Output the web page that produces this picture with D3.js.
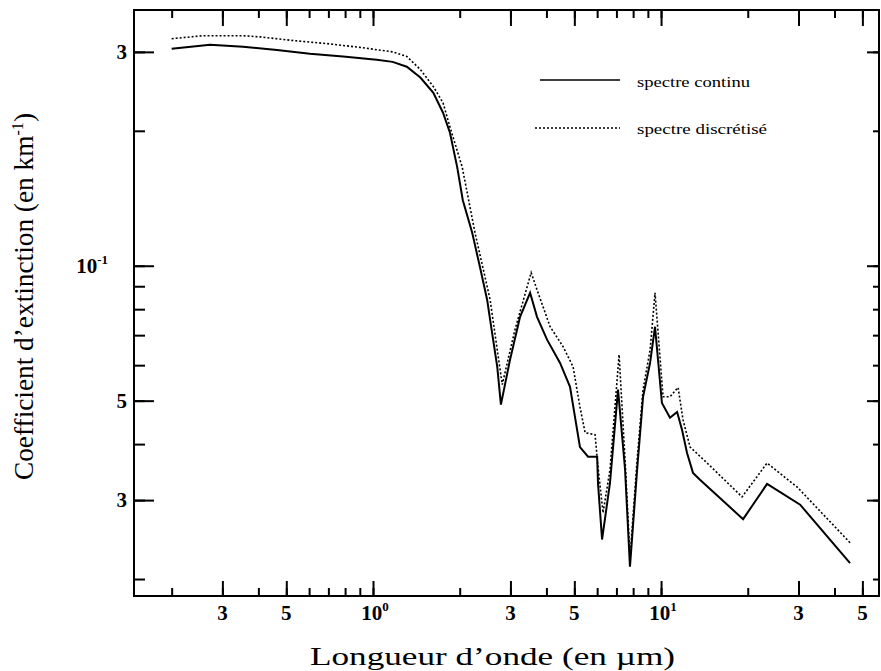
<!DOCTYPE html>
<html>
<head>
<meta charset="utf-8">
<script src="https://cdn.jsdelivr.net/npm/d3@7"></script>
<style>
  html, body { margin: 0; padding: 0; background: #fff; }
  svg { display: block; }
  text { font-family: "Liberation Serif", "Times New Roman", serif; fill: #000; }
</style>
</head>
<body>
<svg id="chart" width="881" height="671"></svg>
<script>
// ---- Data ----
const wavelengthContinu = [0.200, 0.272, 0.354, 0.464, 0.604, 0.787, 1.03, 1.17, 1.31, 1.46, 1.62, 1.75, 1.85, 1.96, 2.05, 2.21, 2.35, 2.49, 2.59, 2.70, 2.78, 2.99, 3.24, 3.51, 3.71, 4.02, 4.46, 4.83, 5.23, 5.58, 6.00, 6.04, 6.24, 6.65, 7.09, 7.50, 7.80, 8.26, 8.66, 9.16, 9.53, 10.07, 10.74, 11.37, 11.83, 12.31, 12.91, 13.65, 19.27, 23.34, 30.4, 45.3];
const valuesContinu = [0.305, 0.311, 0.308, 0.303, 0.297, 0.293, 0.288, 0.285, 0.278, 0.263, 0.243, 0.2195, 0.198, 0.166, 0.140, 0.1185, 0.0995, 0.0840, 0.0709, 0.0595, 0.0490, 0.0617, 0.0769, 0.0870, 0.0769, 0.0684, 0.0607, 0.0537, 0.0394, 0.0375, 0.0375, 0.0328, 0.0245, 0.0328, 0.0529, 0.0351, 0.0213, 0.0351, 0.0510, 0.0607, 0.0731, 0.0494, 0.0458, 0.0472, 0.0430, 0.0382, 0.0345, 0.0333, 0.0272, 0.0326, 0.0293, 0.0217];

const wavelengthDiscret = [0.200, 0.257, 0.354, 0.405, 0.528, 0.692, 0.901, 1.17, 1.31, 1.46, 1.62, 1.75, 1.85, 2.04, 2.26, 2.55, 2.70, 2.81, 3.11, 3.54, 3.71, 4.12, 4.57, 4.95, 5.23, 5.45, 5.90, 6.04, 6.29, 6.65, 7.15, 7.50, 7.80, 8.26, 8.66, 9.16, 9.53, 10.16, 10.74, 11.46, 11.92, 12.61, 14.45, 19.11, 23.34, 29.66, 45.3];
const valuesDiscret = [0.321, 0.326, 0.326, 0.324, 0.318, 0.313, 0.307, 0.300, 0.293, 0.274, 0.251, 0.231, 0.204, 0.166, 0.1185, 0.0840, 0.0649, 0.0543, 0.0720, 0.0965, 0.0884, 0.0731, 0.0660, 0.0595, 0.0484, 0.0424, 0.0420, 0.0356, 0.0281, 0.0351, 0.0633, 0.0369, 0.0223, 0.0369, 0.0529, 0.0649, 0.0870, 0.0510, 0.0510, 0.0535, 0.0453, 0.0394, 0.0363, 0.0305, 0.0363, 0.0321, 0.0241];

const xMajorTicks = [0.3, 0.5, 1, 3, 5, 10, 30, 50];
const xTickLabels = ["3", "5", "10^0", "3", "5", "10^1", "3", "5"];
const yMajorTicks = [0.3, 0.1, 0.05, 0.03];
const yTickLabels = ["3", "10^-1", "5", "3"];

const seriesNames = ["spectre continu", "spectre discrétisé"];
const xTitle = "Longueur d\u2019onde (en \u00b5m)";
const yTitleMain = "Coefficient d\u2019extinction (en km";
const yTitleSup = "-1";

// ---- Layout ----
const L = 134, R = 879, T = 10, B = 596;
const svg = d3.select("#chart");

const x = d3.scaleLog().domain([0.148, 57.1]).range([L, R]);
const y = d3.scaleLog().domain([0.01833, 0.372]).range([B, T]);

const minorX = x.ticks().filter(v => v >= 0.148 && v <= 57.1);
const minorY = y.ticks();

function styleAxis(g) {
  g.select(".domain").remove();
  g.selectAll("line").attr("stroke", "#000").attr("stroke-width", 2);
  g.selectAll("text").remove();
}

// bottom (ticks inward)
svg.append("g").attr("transform", `translate(0,${B})`)
  .call(d3.axisTop(x).tickValues(minorX).tickSize(8).tickFormat("")).call(styleAxis);
svg.append("g").attr("transform", `translate(0,${B})`)
  .call(d3.axisTop(x).tickValues(xMajorTicks).tickSize(15).tickFormat("")).call(styleAxis);
// top
svg.append("g").attr("transform", `translate(0,${T})`)
  .call(d3.axisBottom(x).tickValues(minorX).tickSize(8).tickFormat("")).call(styleAxis);
svg.append("g").attr("transform", `translate(0,${T})`)
  .call(d3.axisBottom(x).tickValues(xMajorTicks).tickSize(16).tickFormat("")).call(styleAxis);
// left
svg.append("g").attr("transform", `translate(${L},0)`)
  .call(d3.axisRight(y).tickValues(minorY).tickSize(11).tickFormat("")).call(styleAxis);
svg.append("g").attr("transform", `translate(${L},0)`)
  .call(d3.axisRight(y).tickValues(yMajorTicks).tickSize(20).tickFormat("")).call(styleAxis);
// right
svg.append("g").attr("transform", `translate(${R},0)`)
  .call(d3.axisLeft(y).tickValues(minorY).tickSize(6).tickFormat("")).call(styleAxis);
svg.append("g").attr("transform", `translate(${R},0)`)
  .call(d3.axisLeft(y).tickValues(yMajorTicks).tickSize(12).tickFormat("")).call(styleAxis);

// frame
svg.append("rect").attr("x", L).attr("y", T).attr("width", R - L).attr("height", B - T)
  .attr("fill", "none").attr("stroke", "#000").attr("stroke-width", 2);

// tick labels
function addLabel(sel, label) {
  const parts = label.split("^");
  sel.append("tspan").text(parts[0]);
  if (parts.length > 1) {
    sel.append("tspan").attr("dy", -9).attr("font-size", 13).text(parts[1]);
  }
}
xMajorTicks.forEach((v, i) => {
  const lab = xTickLabels[i];
  const isPow = lab.includes("^");
  const t = svg.append("text")
    .attr("x", x(v) + (isPow ? 2 : 0))
    .attr("y", 620)
    .attr("text-anchor", "middle")
    .attr("font-size", 21).attr("font-weight", "bold");
  addLabel(t, lab);
});
yMajorTicks.forEach((v, i) => {
  const lab = yTickLabels[i];
  const isPow = lab.includes("^");
  const t = svg.append("text")
    .attr("x", isPow ? 108 : 127)
    .attr("y", y(v) + 7)
    .attr("text-anchor", "end")
    .attr("font-size", 21).attr("font-weight", "bold");
  addLabel(t, lab);
});

// axis titles
svg.append("text").attr("x", 310).attr("y", 665)
  .attr("font-size", 26).attr("textLength", 365).attr("lengthAdjust", "spacingAndGlyphs")
  .text(xTitle);

const yt = svg.append("text")
  .attr("transform", "translate(33,480) rotate(-90)")
  .attr("font-size", 27).attr("textLength", 367).attr("lengthAdjust", "spacingAndGlyphs");
yt.append("tspan").text(yTitleMain);
yt.append("tspan").attr("dy", -10).attr("font-size", 16).text(yTitleSup);
yt.append("tspan").attr("dy", 10).text(")");

// curves
const line = d3.line().x(d => x(d[0])).y(d => y(d[1]));
const dataC = wavelengthContinu.map((w, i) => [w, valuesContinu[i]]);
const dataD = wavelengthDiscret.map((w, i) => [w, valuesDiscret[i]]);

svg.append("path").datum(dataD).attr("d", line)
  .attr("fill", "none").attr("stroke", "#000").attr("stroke-width", 1.6)
  .attr("stroke-dasharray", "2,2");
svg.append("path").datum(dataC).attr("d", line)
  .attr("fill", "none").attr("stroke", "#000").attr("stroke-width", 2);

// legend
const lg = svg.append("g");
lg.append("line").attr("x1", 540).attr("x2", 620).attr("y1", 80).attr("y2", 80)
  .attr("stroke", "#000").attr("stroke-width", 1.6);
lg.append("text").attr("x", 637).attr("y", 87).attr("font-size", 15)
  .attr("textLength", 113).attr("lengthAdjust", "spacingAndGlyphs").text(seriesNames[0]);
lg.append("line").attr("x1", 535).attr("x2", 620).attr("y1", 128).attr("y2", 128)
  .attr("stroke", "#000").attr("stroke-width", 1.4).attr("stroke-dasharray", "2,2");
lg.append("text").attr("x", 637).attr("y", 134).attr("font-size", 15)
  .attr("textLength", 130).attr("lengthAdjust", "spacingAndGlyphs").text(seriesNames[1]);
</script>
</body>
</html>
